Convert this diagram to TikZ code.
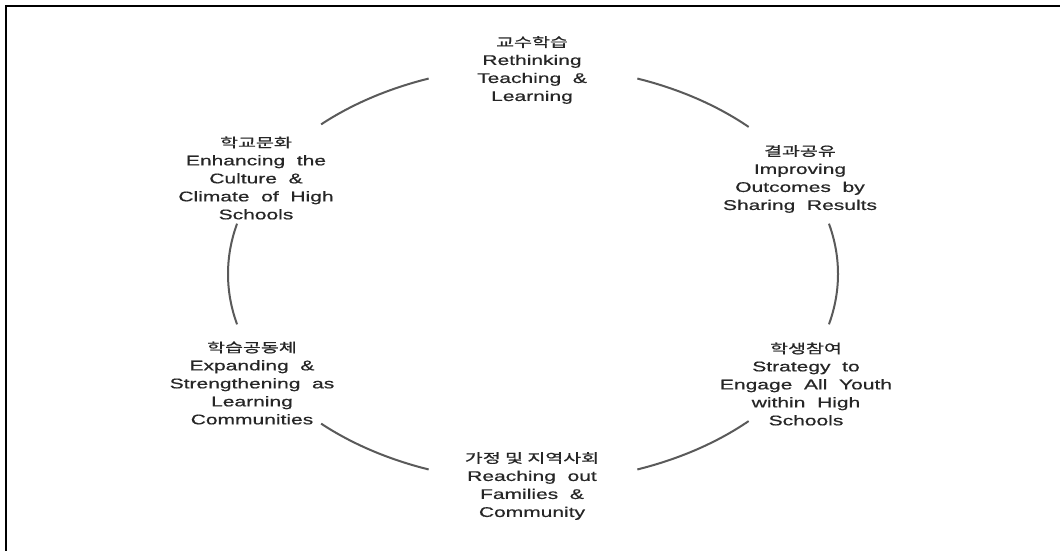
\documentclass[tikz,border=0pt]{standalone}
\usepackage{fontspec}
\setmainfont{Liberation Sans}[FakeStretch=1.5,WordSpace=2,FakeBold=0.6]
\newfontfamily\kr{Noto Sans CJK KR}[FakeStretch=1.5,FakeBold=0.8]
\definecolor{ringgray}{HTML}{5A5A5A}
\definecolor{txt}{HTML}{262626}
\begin{document}
\begin{tikzpicture}[x=1pt,y=-1pt,
  ring/.style={draw=ringgray,line width=2pt},
  frame/.style={draw=black,line width=2pt},
  lbl/.style={align=center,text=txt,inner sep=0pt,font=\fontsize{14}{18}\selectfont}]
\useasboundingbox (0,0) rectangle (1060,551);
\fill[white] (0,0) rectangle (1060,551);
% outer frame (top and left edges only)
\draw[frame] (6,551) -- (6,6) -- (1060,6);

% ring segments around the centre
\coordinate (c) at (533,274);
\foreach \s/\e in {45/70,110/134,166/194,226/250,290/315,346/374}
  \draw[ring] (c) ++(-\s:305 and 208) arc[start angle=-\s,end angle=-\e,x radius=305,y radius=208];

% the six areas
\newcommand\ko[1]{{\kr\fontsize{13}{18}\selectfont #1}}
\node[lbl] (teach) at (532,70) {\ko{교수학습}\\Rethinking\\Teaching \&\\Learning};
\node[lbl] (share) at (800,179) {\ko{결과공유}\\Improving\\Outcomes by\\Sharing Results};
\node[lbl] (engage) at (806,384) {\ko{학생참여}\\Strategy to\\Engage All Youth\\within High\\Schools};
\node[lbl] (family) at (532,486) {\ko{가정 및 지역사회}\\Reaching out\\Families \&\\Community};
\node[lbl] (community) at (252,383) {\ko{학습공동체}\\Expanding \&\\Strengthening as\\Learning\\Communities};
\node[lbl] (culture) at (256,178) {\ko{학교문화}\\Enhancing the\\Culture \&\\Climate of High\\Schools};
\end{tikzpicture}
\end{document}
